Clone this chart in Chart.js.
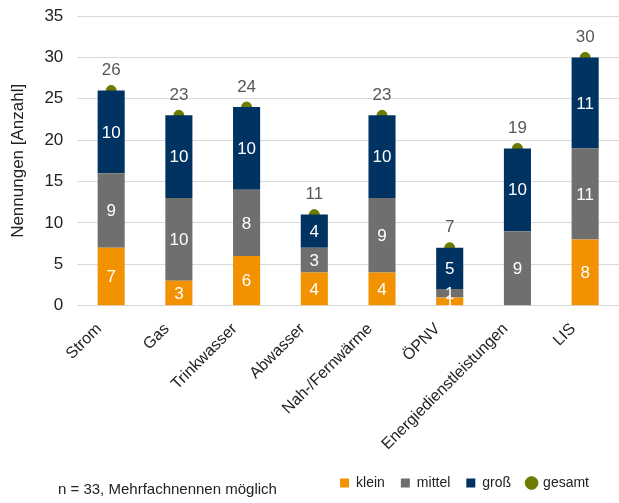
<!DOCTYPE html>
<html>
<head>
<meta charset="utf-8">
<script src="https://cdn.jsdelivr.net/npm/chart.js@4"></script>
<style>
body{margin:0;background:#fff;}
#wrap{position:relative;width:619px;height:503px;}
#note{position:absolute;left:58px;top:480px;font:15px "Liberation Sans",Arial,sans-serif;color:#222;}
</style>
</head>
<body>
<div id="wrap">
<canvas id="chart" width="619" height="503"></canvas>
<div id="note">n = 33, Mehrfachnennen möglich</div>
</div>
<script>
// categories and values
const categories=["Strom","Gas","Trinkwasser","Abwasser","Nah-/Fernwärme","ÖPNV","Energiedienstleistungen","LIS"];
const klein=[7,3,6,4,4,1,0,8];
const mittel=[9,10,8,3,9,1,9,11];
const gross=[10,10,10,4,10,5,10,11];
const gesamt=[26,23,24,11,23,7,19,30];
const yTicks=[0,5,10,15,20,25,30,35];

const FONT="'Liberation Sans', Arial, sans-serif";

// draw the numbers in the bars and above the dots
const labelPlugin={
id:"labels",
afterLayout(chart){
// legend sits a bit left of the right edge
if(chart.legend){chart.legend.left-=19;chart.legend.right-=19;}
},
afterDatasetsDraw(chart){
const ctx=chart.ctx;
ctx.save();
ctx.font="17px "+FONT;
ctx.textAlign="center";
ctx.textBaseline="middle";
chart.data.datasets.forEach((ds,i)=>{
const meta=chart.getDatasetMeta(i);
meta.data.forEach((el,j)=>{
const v=ds.data[j];
if(!v) return;
if(ds.type==="line"){
ctx.fillStyle="#595959";
ctx.fillText(v,el.x,el.y-20);
}else{
ctx.fillStyle="#ffffff";
ctx.fillText(v,el.x,(el.y+el.base)/2+1);
}
});
});
ctx.restore();
}
};

new Chart(document.getElementById("chart"),{
data:{
labels:categories,
datasets:[
{type:"bar",label:"klein",data:klein,backgroundColor:"#f39200",pointStyle:"rect",barPercentage:0.4,categoryPercentage:1},
{type:"bar",label:"mittel",data:mittel,backgroundColor:"#6f6f6e",pointStyle:"rect",barPercentage:0.4,categoryPercentage:1},
{type:"bar",label:"groß",data:gross,backgroundColor:"#003262",pointStyle:"rect",barPercentage:0.4,categoryPercentage:1},
{type:"line",label:"gesamt",data:gesamt,showLine:false,stack:"total",pointStyle:"circle",pointRadius:5,pointHoverRadius:5,backgroundColor:"#6e7a00",borderColor:"#6e7a00"}
]
},
options:{
responsive:false,
animation:false,
layout:{autoPadding:false,padding:{top:0,right:-5,left:8,bottom:3}},
plugins:{
legend:{
position:"bottom",
align:"end",
labels:{
usePointStyle:true,
boxWidth:9,
boxHeight:9,
padding:16,
color:"#222",
font:{family:FONT,size:14}
}
},
tooltip:{enabled:false}
},
scales:{
x:{
stacked:true,
afterFit(axis){axis.paddingRight=0;},
grid:{display:false},
border:{display:false},
ticks:{
color:"#222",
minRotation:45,
maxRotation:45,
padding:6,
labelOffset:-12,
font:{family:FONT,size:16}
}
},
y:{
stacked:true,
min:0,
max:35,
afterBuildTicks(axis){axis.ticks=yTicks.map(v=>({value:v}));},
afterFit(axis){axis.paddingTop=16;},
grid:{color:"#d9d9d9",lineWidth:1,drawTicks:false},
border:{display:false},
ticks:{
color:"#222",
padding:14,
font:{family:FONT,size:17}
},
title:{
display:true,
text:"Nennungen [Anzahl]",
color:"#222",
padding:{top:0,bottom:2},
font:{family:FONT,size:17}
}
}
}
},
plugins:[labelPlugin]
});
</script>
</body>
</html>
